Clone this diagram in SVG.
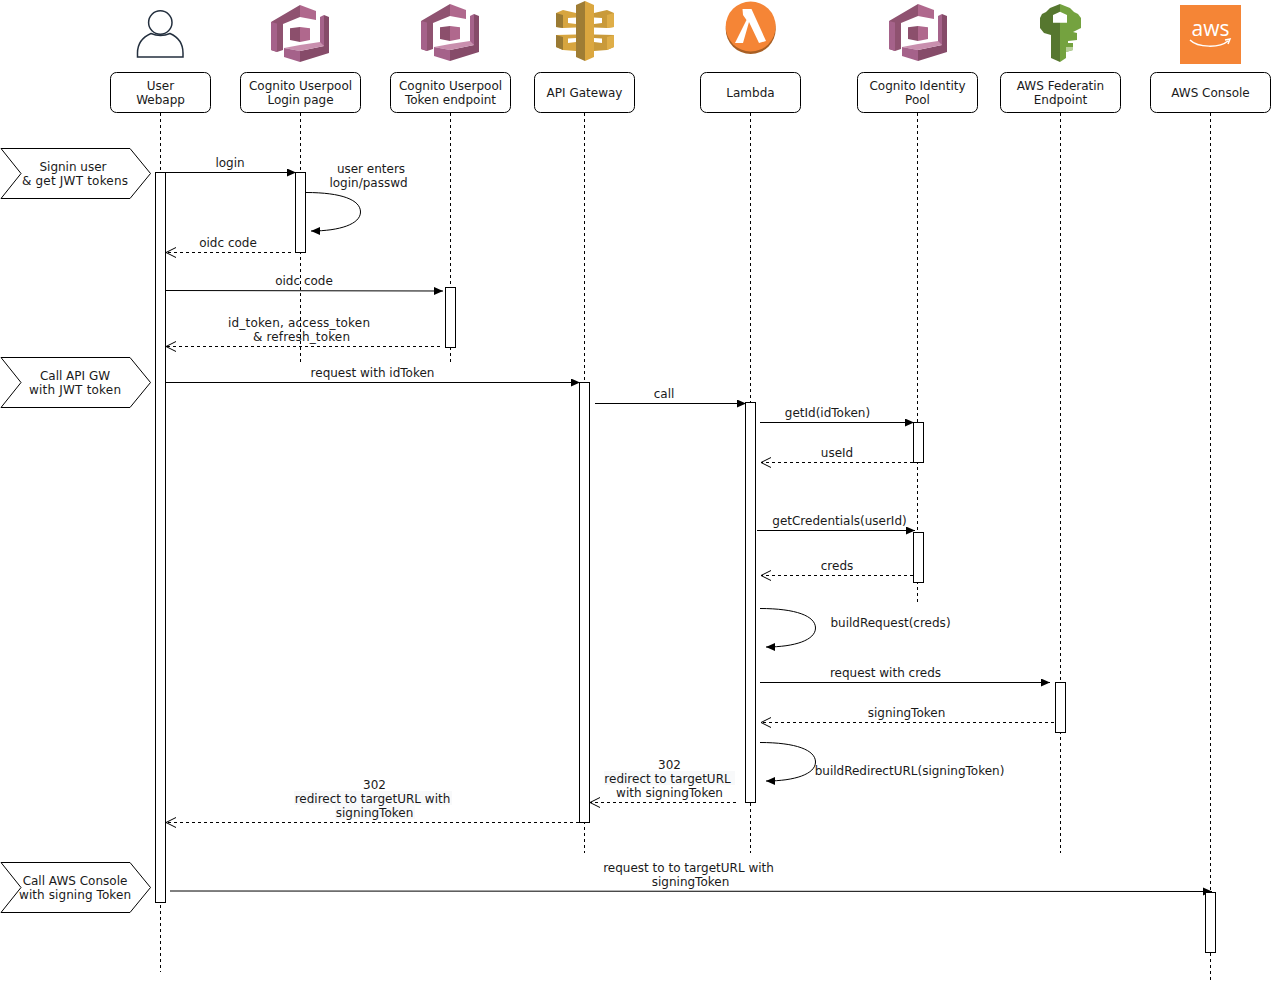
<svg xmlns="http://www.w3.org/2000/svg" width="1271" height="983" viewBox="0 0 1271 983">
<style>
text{font-family:"DejaVu Sans",Verdana,sans-serif;font-size:12px;fill:#1a1a1a;text-anchor:middle}
.box{fill:#fff;stroke:#000;stroke-width:1}
.life{fill:none;stroke:#000;stroke-width:1;stroke-dasharray:3 3}
.msg{fill:none;stroke:#000;stroke-width:1;marker-end:url(#solid)}
.ret{fill:none;stroke:#000;stroke-width:1;stroke-dasharray:3 3;marker-end:url(#open)}
.self{fill:none;stroke:#000;stroke-width:1;marker-end:url(#solid)}
</style>
<defs>
<marker id="solid" markerUnits="userSpaceOnUse" markerWidth="12" markerHeight="10" refX="9" refY="4" orient="auto"><path d="M0 0L9 4L0 8Z" fill="#000"/></marker>
<marker id="open" markerUnits="userSpaceOnUse" markerWidth="12" markerHeight="12" refX="10" refY="5.500" orient="auto"><path d="M0 0.500L10 5.500L0 10.500" fill="none" stroke="#000"/></marker>
<g id="cognito">
<path d="M0 17L29 0V12L12 19V45L6 47L0 45Z" fill="#8f5270"/>
<path d="M0 17L6 18.500V47L0 45Z" fill="#a5628a"/>
<path d="M29 0L45 6V15L29 12Z" fill="#b0688d"/>
<path d="M49 12L53 10V41L49 40Z" fill="#a5628a"/>
<path d="M53 10L58 12V48L29 57V46L53 41Z" fill="#864b69"/>
<path d="M13 43L29 40L49 37L53 41L29 46Z" fill="#c98fae"/>
<path d="M13 43L29 46V57L13 52Z" fill="#a5628a"/>
<path d="M19 23.300L29 22V37L19 35Z" fill="#8c4f6c"/>
<path d="M29 22L39 23.300V35L29 37Z" fill="#b0688d"/>
</g>
</defs>
<g id="connectors">
<path class="life" d="M160.500 113V972M300.500 113V362M450.500 113V362M584.500 113V853M750.500 113V853M917.500 113V602M1060.500 113V853M1210.500 113V980"/>
<path class="msg" d="M165 172.500H296"/>
<path class="self" d="M306 192.500C342 192.500 360.500 200 360.500 212C360.500 224 340 231 311 231"/>
<path class="ret" d="M291 252.500H166"/>
<path class="msg" d="M165 290.500L443 291"/>
<path class="ret" d="M440 346.500H166"/>
<path class="msg" d="M165 382.500H580"/>
<path class="msg" d="M595 403.500H746"/>
<path class="msg" d="M760 422.500H914"/>
<path class="ret" d="M913 462.500H761"/>
<path class="msg" d="M757 530.500H915"/>
<path class="ret" d="M913 575.500H761"/>
<path class="self" d="M760 608.500C796 608.500 815.500 616 815.500 628C815.500 640 795 647 766 647"/>
<path class="msg" d="M760 682.500H1050"/>
<path class="ret" d="M1054 722.500H761"/>
<path class="self" d="M760 742.500C796 742.500 815.500 750 815.500 762C815.500 774 795 781 766 781"/>
<path class="ret" d="M736 802.500H590"/>
<path class="ret" d="M579 822.500H166"/>
<path class="msg" d="M170 891L1212 891.500"/>
</g>
<g id="user"><path d="M137.500 57V53C137.500 44 143 37 151 33.500C157 36 164 36 170 33.500C178 37 183 44 183 53V57Z" fill="none" stroke="#232f3e" stroke-width="1.500"/><circle cx="160.300" cy="22.500" r="11.700" fill="none" stroke="#232f3e" stroke-width="1.500"/><rect class="box" x="110.500" y="72.500" width="100" height="40" rx="6"/><text x="160.500" y="90">User</text><text x="160.500" y="104">Webapp</text></g>
<g id="login-page"><use href="#cognito" x="271" y="5"/><rect class="box" x="240.500" y="72.500" width="120" height="40" rx="6"/><text x="300.500" y="90">Cognito Userpool</text><text x="300.500" y="104">Login page</text></g>
<g id="token-endpoint"><use href="#cognito" x="421" y="4"/><rect class="box" x="390.500" y="72.500" width="120" height="40" rx="6"/><text x="450.500" y="90">Cognito Userpool</text><text x="450.500" y="104">Token endpoint</text></g>
<g id="api-gateway">
<path d="M556 13L563 10L576 13V17.500L568 18V23L576 24V27.500L563 28L556 27Z" fill="#d7a53f"/>
<path d="M556 13L563 15V28L556 27Z" fill="#9a7a33"/>
<path d="M556 35L576 34.500V38L568 38.500V43L576 42V51L563 50L556 47Z" fill="#d7a53f"/>
<path d="M556 35L563 37V50L556 47Z" fill="#9a7a33"/>
<path d="M614 13L607 10L594 13V17.500L602 18V23L594 24V27.500L607 28L614 27Z" fill="#c99a3a"/>
<path d="M614 13L607 15V28L614 27Z" fill="#dfae48"/>
<path d="M614 35L594 34.500V38L602 38.500V43L594 42V51L607 50L614 47Z" fill="#c99a3a"/>
<path d="M614 35L607 37V50L614 47Z" fill="#dfae48"/>
<path d="M576 5L585 1V61L576 57Z" fill="#9f7d34"/>
<path d="M585 1L594 5V57L585 61Z" fill="#dba73f"/>
<rect class="box" x="534.500" y="72.500" width="100" height="40" rx="6"/><text x="584.500" y="97">API Gateway</text></g>
<g id="lambda"><circle cx="750.700" cy="29" r="25" fill="#a85f24"/><circle cx="750.700" cy="26.500" r="25" fill="#f58536"/><path d="M742.500 9H751.500L766 41L759 43L749 22L743 43H735L746.500 20L743 15Z" fill="#fff"/><rect class="box" x="700.500" y="72.500" width="100" height="40" rx="6"/><text x="750.500" y="97">Lambda</text></g>
<g id="identity-pool"><use href="#cognito" x="889" y="4"/><rect class="box" x="857.500" y="72.500" width="120" height="40" rx="6"/><text x="917.500" y="90">Cognito Identity</text><text x="917.500" y="104">Pool</text></g>
<g id="federation">
<path d="M1060 4L1070 8L1074 12L1078 14L1081 18V28L1073 32L1077 33V40L1068 41V43H1073V50L1066 52V58L1060 62Z" fill="#74a23f"/>
<path d="M1060 4L1050 8L1046 12L1042 14L1040 18V28L1044 33L1051 35V58L1060 62Z" fill="#56772f"/>
<path d="M1053 15L1060 11.700L1067 15V22.700H1053Z" fill="#fff"/>
<path d="M1066 47H1073V50L1066 52Z" fill="#b8d09a"/>
<rect class="box" x="1000.500" y="72.500" width="120" height="40" rx="6"/><text x="1060.500" y="90">AWS Federatin</text><text x="1060.500" y="104">Endpoint</text></g>
<g id="aws-console"><rect x="1180" y="5" width="61" height="59" fill="#f58536"/><text x="1210.500" y="35.500" style="fill:#fff;font-size:21px;font-family:'Open Sans',sans-serif">aws</text><path d="M1190 40C1198 48 1220 48 1228 41M1225 40L1230 39L1228 44" fill="none" stroke="#fff" stroke-width="1.500"/><rect class="box" x="1150.500" y="72.500" width="120" height="40" rx="6"/><text x="1210.500" y="97">AWS Console</text></g>
<g id="activations">
<rect class="box" x="155.500" y="172.500" width="10" height="730"/>
<rect class="box" x="295.500" y="172.500" width="10" height="80"/>
<rect class="box" x="445.500" y="287.500" width="10" height="60"/>
<rect class="box" x="579.500" y="382.500" width="10" height="440"/>
<rect class="box" x="745.500" y="402.500" width="10" height="400"/>
<rect class="box" x="913.500" y="422.500" width="10" height="40"/>
<rect class="box" x="913.500" y="532.500" width="10" height="50"/>
<rect class="box" x="1055.500" y="682.500" width="10" height="50"/>
<rect class="box" x="1205.500" y="892.500" width="10" height="60"/>
</g>
<g id="frame-signin"><path class="box" d="M1 148.500H130L150.500 173.500L130 198.500H1L21 173.500Z"/><text x="73" y="171">Signin user</text><text x="75" y="185" textLength="106">&amp; get JWT tokens</text></g>
<g id="frame-api"><path class="box" d="M1 357.500H130L150.500 382.500L130 407.500H1L21 382.500Z"/><text x="75" y="380">Call API GW</text><text x="75" y="394" textLength="92">with JWT token</text></g>
<g id="frame-console"><path class="box" d="M1 862.500H130L150.500 887.500L130 912.500H1L21 887.500Z"/><text x="75" y="885">Call AWS Console</text><text x="75" y="899" textLength="112">with signing Token</text></g>
<g id="labels">
<text x="230" y="167">login</text>
<text x="371" y="173">user enters</text><text x="368.500" y="187">login/passwd</text>
<text x="228" y="247">oidc code</text>
<text x="304" y="285">oidc code</text>
<text x="299" y="327" textLength="142">id_token, access_token</text><text x="301.500" y="341" textLength="97">&amp; refresh_token</text>
<text x="372.500" y="377">request with idToken</text>
<text x="664" y="398">call</text>
<text x="827.500" y="417">getId(idToken)</text>
<text x="837" y="457">useId</text>
<text x="839.500" y="525">getCredentials(userId)</text>
<text x="837" y="570">creds</text>
<text x="890.500" y="627">buildRequest(creds)</text>
<text x="885.500" y="677">request with creds</text>
<text x="906.500" y="717">signingToken</text>
<text x="909.500" y="775">buildRedirectURL(signingToken)</text>
<rect x="604" y="771" width="131" height="14" fill="#f8f9fa"/>
<text x="669.500" y="769">302</text><text x="667.500" y="783">redirect to targetURL</text><text x="669.500" y="797">with signingToken</text>
<rect x="294" y="791" width="158" height="14" fill="#f8f9fa"/><rect x="335" y="805" width="80" height="14" fill="#f8f9fa"/>
<text x="374.500" y="789">302</text><text x="372.500" y="803">redirect to targetURL with</text><text x="374.500" y="817">signingToken</text>
<text x="688.500" y="872">request to to targetURL with</text><text x="690.500" y="886">signingToken</text>
</g>
</svg>
